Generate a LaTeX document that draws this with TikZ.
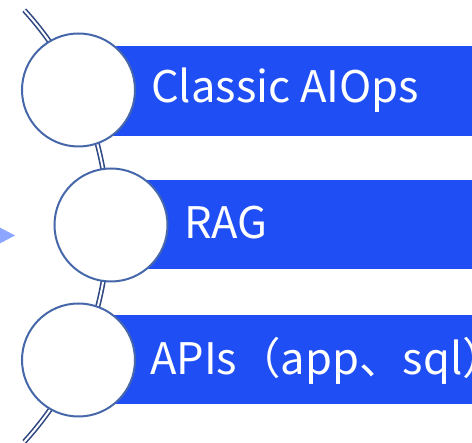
\documentclass[tikz,border=0pt]{standalone}
\usepackage{fontspec}
\setmainfont{Noto Sans CJK SC}
\usetikzlibrary{calc}
\begin{document}
\begin{tikzpicture}[x=1pt,y=1pt,
  bar/.style={fill=barblue, draw=none},
  bullet/.style={circle, draw=ringblue, line width=2pt, fill=white,
    minimum size=113pt, inner sep=0pt},
  label/.style={anchor=base west, text=white, inner sep=0pt,
    font=\fontsize{43.5}{50}\selectfont},
  spine/.style={draw=spineblue, line width=1.6pt, double=white,
    double distance=2pt}]
\definecolor{barblue}{RGB}{31,78,245}
\definecolor{ringblue}{RGB}{70,104,170}
\definecolor{spineblue}{RGB}{47,72,130}
\definecolor{tipblue}{RGB}{140,165,255}
\useasboundingbox (0,0) rectangle (472,443);
\clip (0,0) rectangle (472,443);

% curved spine behind the bullets
\coordinate (arcc) at (-212,217);
\draw[spine] ($(arcc)+(42.4:320)$) arc[start angle=42.4, end angle=-42.4, radius=320];

% small pointer on the left
\fill[tipblue] (-5,218) -- (15,207.5) -- (-5,197) -- cycle;

% bars
\fill[bar] (78.5,307) rectangle (472,397);
\fill[bar] (111,174) rectangle (472,263);
\fill[bar] (78.5,39) rectangle (472,128);

% bullets
\node[bullet] (c1) at (78.5,353) {};
\node[bullet] (c2) at (111,218) {};
\node[bullet] (c3) at (78.5,83) {};

% labels
\node[label] (t1) at (151,340) {Classic AIOps};
\node[label] (t2) at (184,204) {RAG};
\node[label] (t3) at (150,68) {APIs（app、sql）};
\end{tikzpicture}
\end{document}
